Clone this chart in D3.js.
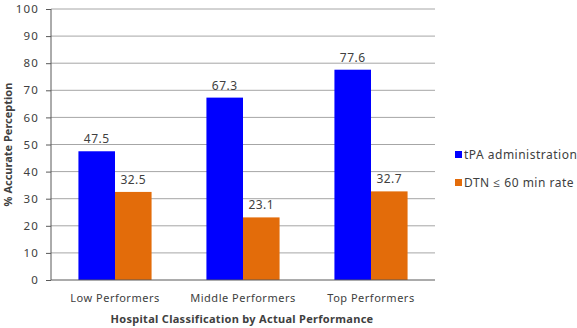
<!DOCTYPE html>
<html>
<head>
<meta charset="utf-8">
<script src="https://cdn.jsdelivr.net/npm/d3@7"></script>
<style>
  body { margin: 0; background: #fff; }
  text { font-family: "Noto Sans", "Open Sans", sans-serif; fill: #404040; }
</style>
</head>
<body>
<svg width="577" height="328"></svg>
<script>
var categories = ["Low Performers", "Middle Performers", "Top Performers"];
var seriesNames = ["tPA administration", "DTN \u2264 60 min rate"];
var tpaValues = [47.5, 67.3, 77.6];
var dtnValues = [32.5, 23.1, 32.7];
var yTicks = [0, 10, 20, 30, 40, 50, 60, 70, 80, 90, 100];
var colors = ["#0000ff", "#e36c0a"];

var svg = d3.select("svg"),
    margin = {left: 51, right: 142, top: 9, bottom: 48},
    width = +svg.attr("width") - margin.left - margin.right,
    height = +svg.attr("height") - margin.top - margin.bottom;

var g = svg.append("g").attr("transform", "translate(" + margin.left + "," + margin.top + ")");

var x0 = d3.scaleBand().domain(categories).range([0, width]).padding(0);
var x1 = d3.scaleBand().domain(seriesNames)
    .range([0, x0.bandwidth()])
    .paddingInner(0).paddingOuter(0.75);
var y = d3.scaleLinear().domain([0, 100]).range([height, 0]);

// gridlines
g.selectAll(".grid").data(yTicks.slice(1)).enter().append("line")
    .attr("x1", 0).attr("x2", width)
    .attr("y1", function(d) { return y(d); })
    .attr("y2", function(d) { return y(d); })
    .attr("stroke", "#a6a6a6").attr("stroke-width", 1);

var data = categories.map(function(c, i) {
    return {cat: c, vals: [tpaValues[i], dtnValues[i]]};
});

var grp = g.selectAll(".cat").data(data).enter().append("g")
    .attr("transform", function(d) { return "translate(" + x0(d.cat) + ",0)"; });

grp.selectAll("rect").data(function(d) {
    return d.vals.map(function(v, j) { return {name: seriesNames[j], v: v, j: j}; });
}).enter().append("rect")
    .attr("x", function(d) { return x1(d.name); })
    .attr("width", x1.bandwidth())
    .attr("y", function(d) { return y(d.v); })
    .attr("height", function(d) { return height - y(d.v); })
    .attr("fill", function(d) { return colors[d.j]; });

grp.selectAll(".lbl").data(function(d) {
    return d.vals.map(function(v, j) { return {name: seriesNames[j], v: v}; });
}).enter().append("text")
    .attr("x", function(d) { return x1(d.name) + x1.bandwidth() / 2; })
    .attr("y", function(d) { return y(d.v) - 8; })
    .attr("text-anchor", "middle")
    .style("font-size", "12px").style("letter-spacing", "0.5px")
    .text(function(d) { return d.v.toFixed(1); });

// y axis
var yAxis = g.append("g")
    .call(d3.axisLeft(y).tickValues(yTicks).tickSize(5).tickPadding(7));
yAxis.select(".domain").attr("stroke", "#595959").attr("d", "M0," + height + "V0");
yAxis.selectAll(".tick line").attr("stroke", "#595959");
yAxis.selectAll("text").style("font-size", "11.5px").attr("fill", "#404040")
    .style("letter-spacing", "1.2px")
    .style("font-family", "'Noto Sans', sans-serif");

// x axis
var xAxis = g.append("g").attr("transform", "translate(0," + height + ")")
    .call(d3.axisBottom(x0).tickSize(0).tickPadding(14));
xAxis.select(".domain").attr("stroke", "#595959").attr("d", "M0,0H" + width);
xAxis.selectAll("text").style("font-size", "11px").attr("fill", "#404040")
    .style("letter-spacing", "0.5px")
    .style("font-family", "'Noto Sans', sans-serif");

// axis titles
svg.append("text")
    .attr("x", margin.left + width / 2 - 1)
    .attr("y", 323)
    .attr("text-anchor", "middle")
    .style("font-size", "11px").style("font-weight", "bold")
    .style("letter-spacing", "0.3px")
    .text("Hospital Classification  by Actual Performance");

svg.append("text")
    .attr("transform", "translate(12," + (margin.top + height / 2) + ") rotate(-90)")
    .attr("text-anchor", "middle")
    .style("font-size", "11px").style("font-weight", "bold")
    .text("% Accurate Perception");

// legend
var legend = svg.selectAll(".legend").data(seriesNames).enter().append("g")
    .attr("transform", function(d, i) { return "translate(455," + (155 + i * 28) + ")"; });
legend.append("rect").attr("x", 0).attr("y", -4).attr("width", 7).attr("height", 7)
    .attr("fill", function(d, i) { return colors[i]; });
legend.append("text").attr("x", 9).attr("y", 4)
    .style("font-size", "12px").style("letter-spacing", "0.5px")
    .text(function(d) { return d; });
</script>
</body>
</html>
